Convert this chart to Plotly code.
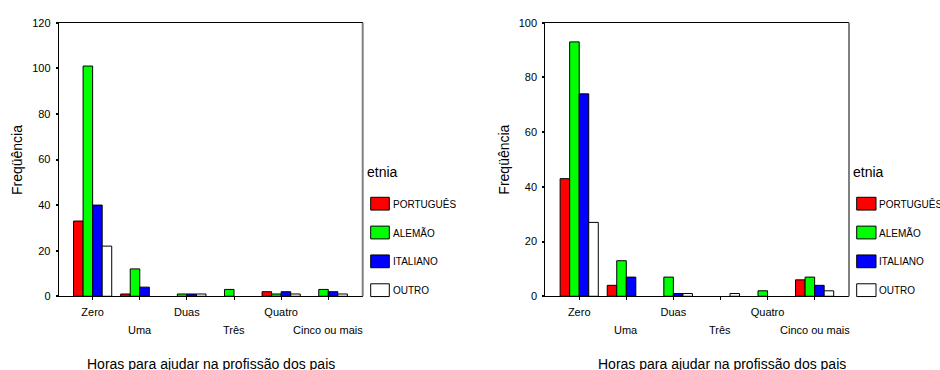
import plotly.graph_objects as go

# Categories on the x axis (hours spent helping with the parents' profession)
categories = ["Zero", "Uma", "Duas", "Três", "Quatro", "Cinco ou mais"]

# Ethnic groups and their fill colours
series_names = ["PORTUGUÊS", "ALEMÃO", "ITALIANO", "OUTRO"]
series_colors = ["#FF0000", "#00FF00", "#0000FF", "#FFFFFF"]

# Left panel frequencies
left_portugues = [33, 1, 0, 0, 2, 0]
left_alemao = [101, 12, 1, 3, 1, 3]
left_italiano = [40, 4, 1, 0, 2, 2]
left_outro = [22, 0, 1, 0, 1, 1]

# Right panel frequencies
right_portugues = [43, 4, 0, 0, 0, 6]
right_alemao = [93, 13, 7, 0, 2, 7]
right_italiano = [74, 7, 1, 0, 0, 4]
right_outro = [27, 0, 1, 1, 0, 2]

left_ticks = [0, 20, 40, 60, 80, 100, 120]
right_ticks = [0, 20, 40, 60, 80, 100]

x_title = "Horas para ajudar na profissão dos pais"
y_title = "Freqüência"
legend_title = "etnia"

W, H = 940, 370
FONT = "Liberation Sans, Arial, Helvetica, sans-serif"


def fx(px):
    return px / W


def fy(py):
    return 1 - py / H


xpos = list(range(len(categories)))

fig = go.Figure()

panels = [
    dict(xa="x", ya="y", data=[left_portugues, left_alemao, left_italiano, left_outro]),
    dict(xa="x2", ya="y2", data=[right_portugues, right_alemao, right_italiano, right_outro]),
]
for p in panels:
    for name, color, vals in zip(series_names, series_colors, p["data"]):
        # empty categories get no outline so no flat line shows on the axis
        outline = [1 if v > 0 else 0 for v in vals]
        fig.add_trace(go.Bar(
            x=xpos, y=vals, name=name, xaxis=p["xa"], yaxis=p["ya"],
            marker=dict(color=color, line=dict(color="black", width=outline)),
            showlegend=False,
        ))

# Row-1 tick labels on the axis, row-2 labels placed as annotations
row1_text = [c if i % 2 == 0 else "" for i, c in enumerate(categories)]

xaxis_common = dict(
    range=[-0.72, 5.73], tickvals=xpos, ticktext=row1_text,
    ticks="outside", ticklen=3, tickwidth=1, tickcolor="black",
    ticklabelstandoff=3,
    showline=True, linecolor="black", linewidth=1, mirror=True,
    showgrid=False, zeroline=False, fixedrange=True,
    tickfont=dict(family=FONT, size=11, color="black"),
)
yaxis_common = dict(
    ticks="outside", ticklen=2, tickwidth=2, tickcolor="black",
    ticklabelstandoff=3,
    showline=True, linecolor="black", linewidth=1, mirror=False,
    showgrid=False, zeroline=False, fixedrange=True,
    tickfont=dict(family=FONT, size=11, color="black"),
)

left_x = (58.7, 362.7)
right_x = (545.3, 849.0)
plot_y = (17.3, 300.0)

fig.update_layout(
    width=W, height=H,
    margin=dict(l=0, r=0, t=0, b=0),
    paper_bgcolor="white", plot_bgcolor="white",
    barmode="group", bargap=0.19, bargroupgap=0,
    showlegend=False,
    font=dict(family=FONT, color="black"),
    xaxis=dict(domain=[fx(left_x[0]), fx(left_x[1])], anchor="y", **xaxis_common),
    yaxis=dict(domain=[fy(plot_y[1]), fy(plot_y[0])], anchor="x",
               range=[0, 120], tickvals=left_ticks, **yaxis_common),
    xaxis2=dict(domain=[fx(right_x[0]), fx(right_x[1])], anchor="y2", **xaxis_common),
    yaxis2=dict(domain=[fy(plot_y[1]), fy(plot_y[0])], anchor="x2",
                range=[0, 100], tickvals=right_ticks, **yaxis_common),
)

shapes = []
annotations = []

for xa, ya, px_left, title_cx, leg_title_x, sw_x0, sw_x1, lab_x in [
    ("x", "y", left_x[0], 210.8, 366.7, 370.7, 389.3, 392.7),
    ("x2", "y2", right_x[0], 722.0, 853.3, 856.7, 876.0, 879.3),
]:
    # gray right-hand frame line
    shapes.append(dict(type="line", xref=f"{xa} domain", yref=f"{ya} domain",
                       x0=1, x1=1, y0=0, y1=1, line=dict(color="#808080", width=2)))
    # second row of category labels
    for i, c in enumerate(categories):
        if i % 2 == 1:
            annotations.append(dict(x=i, y=fy(334.5), xref=xa, yref="paper",
                                    text=c, showarrow=False, xanchor="center",
                                    yanchor="middle",
                                    font=dict(family=FONT, size=11, color="black")))
    # axis titles
    annotations.append(dict(x=fx(title_cx), y=fy(370.5), xref="paper", yref="paper",
                            text=x_title, showarrow=False, xanchor="center",
                            yanchor="middle",
                            font=dict(family=FONT, size=14, color="black")))
    annotations.append(dict(x=fx(px_left - 41.5), y=fy(159), xref="paper", yref="paper",
                            text=y_title, showarrow=False, textangle=-90,
                            xanchor="center", yanchor="middle",
                            font=dict(family=FONT, size=14, color="black")))
    # legend
    annotations.append(dict(x=fx(leg_title_x), y=fy(171.7), xref="paper", yref="paper",
                            text=legend_title, showarrow=False, xanchor="left",
                            yanchor="middle", xshift=-2,
                            font=dict(family=FONT, size=14, color="black")))
    for k, (name, color) in enumerate(zip(series_names, series_colors)):
        cy = 204.3 + k * 29.8
        shapes.append(dict(type="rect", xref="paper", yref="paper",
                           x0=fx(sw_x0), x1=fx(sw_x1), y0=fy(cy + 6.6), y1=fy(cy - 6.6),
                           fillcolor=color, line=dict(color="black", width=1)))
        annotations.append(dict(x=fx(lab_x), y=fy(cy), xref="paper", yref="paper",
                                text=name, showarrow=False, xanchor="left",
                                yanchor="middle", xshift=-2,
                                font=dict(family=FONT, size=10, color="black")))

fig.update_layout(shapes=shapes, annotations=annotations)

fig.write_html("out.html")
